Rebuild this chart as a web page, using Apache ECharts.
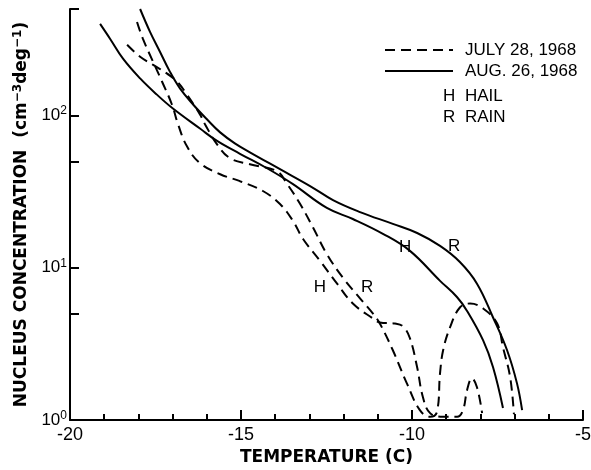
<!DOCTYPE html>
<html>
<head>
<meta charset="utf-8">
<script src="https://cdn.jsdelivr.net/npm/echarts@6/dist/echarts.min.js"></script>
<style>
  html, body { margin: 0; padding: 0; background: #fff; }
  #chart { width: 591px; height: 470px; }
</style>
</head>
<body>
<div id="chart"></div>
<script>
// temperature (C), nucleus concentration (cm-3 deg-1)
const julyHail = [[-18.04,411],[-17.87,319],[-17.57,225],[-17.31,167],[-17.02,118],[-16.84,87.3],[-16.58,62.7],[-16.2,48.6],[-15.61,41.1],[-15.03,37.0],[-14.36,31.9],[-13.86,26.2],[-13.48,20.3],[-13.19,15.5],[-12.69,11.1],[-12.19,7.86],[-11.73,5.82],[-11.14,4.64],[-10.94,4.37],[-10.5,4.3],[-10.26,4.11],[-10.06,3.44],[-9.85,2.22],[-9.68,1.41],[-9.47,1.11],[-9.09,1.05],[-8.68,1.05],[-8.51,1.16],[-8.39,1.57],[-8.25,1.88],[-8.1,1.64],[-7.95,1.11]];
const julyRain = [[-18.33,291],[-17.95,243],[-17.57,215],[-17.16,188],[-16.87,167],[-16.58,137],[-16.2,101.6],[-16.05,87.3],[-15.7,64.6],[-15.32,52.4],[-14.74,47.8],[-13.95,43.0],[-13.65,35.4],[-13.27,26.2],[-12.89,18.3],[-12.49,12.3],[-12.02,8.6],[-11.52,6.3],[-11.14,5.0],[-10.94,4.3],[-10.56,2.87],[-10.15,1.74],[-9.77,1.16],[-9.47,1.05],[-9.27,1.13],[-9.18,2.03],[-9.09,2.87],[-8.89,4.05],[-8.6,5.48],[-8.3,5.82],[-7.92,5.4],[-7.51,4.3],[-7.34,3.0],[-7.13,1.91],[-7.02,1.09]];
const augHail = [[-19.12,399],[-18.83,319],[-18.45,236],[-17.95,175],[-17.46,137],[-16.99,111],[-16.2,82],[-15.7,68],[-15.03,56],[-14.24,45],[-13.48,35.4],[-12.49,24.7],[-11.73,20.9],[-10.85,16.7],[-10.06,12.9],[-9.18,8.2],[-8.68,6.4],[-8.39,5.2],[-7.92,3.33],[-7.63,2.22],[-7.34,1.2]];
const augRain = [[-17.95,500],[-17.66,354],[-17.37,262],[-17.08,194],[-16.78,150],[-16.4,118],[-15.99,94],[-15.61,77.4],[-15.18,65.6],[-14.74,57.3],[-13.86,44.4],[-12.98,34.4],[-12.31,27.8],[-11.52,23.2],[-10.56,19.4],[-9.85,16.9],[-9.18,13.9],[-8.6,10.9],[-8.1,7.86],[-7.63,4.71],[-7.22,2.87],[-6.93,1.74],[-6.78,1.16]];

// H / R markers on the curves
const markT = [-10.2, -8.77, -12.69, -11.31];
const markN = [13.6, 13.8, 7.4, 7.4];
const markText = ['H', 'R', 'H', 'R'];

const yTicks = [1, 5, 10, 50, 100, 500];
const yLabels = [1, 10, 100];

const font = 'Liberation Sans';
const dash = [10, 6];

let myChart = echarts.init(document.getElementById('chart'));

function curve(name, data, dashed) {
  return {
    name: name,
    type: 'line',
    data: data,
    smooth: 0.4,
    symbol: 'none',
    silent: true,
    lineStyle: { color: '#000', width: 2, type: dashed ? dash : 'solid' }
  };
}

const legendFont = '17px "Liberation Sans"';

myChart.setOption({
  animation: false,
  backgroundColor: '#fff',
  grid: { left: 70, right: 8, top: 9, bottom: 50, outerBoundsMode: 'none' },
  xAxis: {
    type: 'value',
    min: -20, max: -5, interval: 5,
    name: 'TEMPERATURE (C)',
    nameLocation: 'middle',
    nameGap: 27,
    nameTextStyle: { fontFamily: 'DejaVu Sans', fontWeight: 'bold', fontSize: 17, color: '#000' },
    axisLine: { lineStyle: { color: '#000', width: 2 } },
    axisTick: { inside: true, length: 10, lineStyle: { color: '#000', width: 2 } },
    minorTick: { show: true, splitNumber: 5, length: 6, lineStyle: { color: '#000', width: 2 } },
    splitLine: { show: false },
    axisLabel: { fontFamily: font, fontSize: 18, color: '#000', margin: 6 }
  },
  yAxis: {
    type: 'log',
    logBase: 10,
    min: 1, max: 500,
    name: 'NUCLEUS CONCENTRATION  (cm{s|−3}deg{s|−1})',
    nameLocation: 'middle',
    nameRotate: 90,
    nameGap: 32,
    nameTextStyle: {
      fontFamily: 'DejaVu Sans', fontWeight: 'bold', fontSize: 17, color: '#000',
      rich: { s: { fontFamily: 'DejaVu Sans', fontWeight: 'bold', fontSize: 12, padding: [0, 0, 9, 0] } }
    },
    axisLine: { show: true, lineStyle: { color: '#000', width: 2 } },
    axisTick: { inside: true, length: 9, customValues: yTicks, lineStyle: { color: '#000', width: 2 } },
    splitLine: { show: false },
    axisLabel: {
      customValues: yLabels,
      margin: 3,
      formatter: function (v) {
        return '{b|10}{s|' + Math.round(Math.log10(v)) + '}';
      },
      rich: {
        b: { fontFamily: font, fontSize: 17, color: '#000' },
        s: { fontFamily: font, fontSize: 12, color: '#000', padding: [0, 0, 9, 0] }
      }
    }
  },
  graphic: [
    { type: 'line', shape: { x1: 385, y1: 50, x2: 453, y2: 50 }, style: { stroke: '#000', lineWidth: 2, lineDash: dash } },
    { type: 'text', left: 465, top: 42, style: { text: 'JULY 28, 1968', font: legendFont, fill: '#000' } },
    { type: 'line', shape: { x1: 385, y1: 71, x2: 453, y2: 71 }, style: { stroke: '#000', lineWidth: 2 } },
    { type: 'text', left: 465, top: 63, style: { text: 'AUG. 26, 1968', font: legendFont, fill: '#000' } },
    { type: 'text', left: 443, top: 88, style: { text: 'H', font: legendFont, fill: '#000' } },
    { type: 'text', left: 465, top: 88, style: { text: 'HAIL', font: legendFont, fill: '#000' } },
    { type: 'text', left: 443, top: 109, style: { text: 'R', font: legendFont, fill: '#000' } },
    { type: 'text', left: 465, top: 109, style: { text: 'RAIN', font: legendFont, fill: '#000' } }
  ],
  series: [
    curve('JULY 28, 1968 hail', julyHail, true),
    curve('JULY 28, 1968 rain', julyRain, true),
    curve('AUG. 26, 1968 hail', augHail, false),
    curve('AUG. 26, 1968 rain', augRain, false),
    {
      name: 'marks',
      type: 'scatter',
      symbolSize: 0,
      silent: true,
      itemStyle: { opacity: 1 },
      data: markT.map(function (t, i) { return [t, markN[i], markText[i]]; }),
      label: {
        show: true,
        position: 'inside',
        formatter: function (p) { return p.value[2]; },
        fontFamily: font, fontSize: 17, color: '#000',
        opacity: 1,
        textBorderWidth: 0
      }
    }
  ]
});
window.addEventListener('resize', function () {
  myChart.resize();
});
</script>
</body>
</html>
